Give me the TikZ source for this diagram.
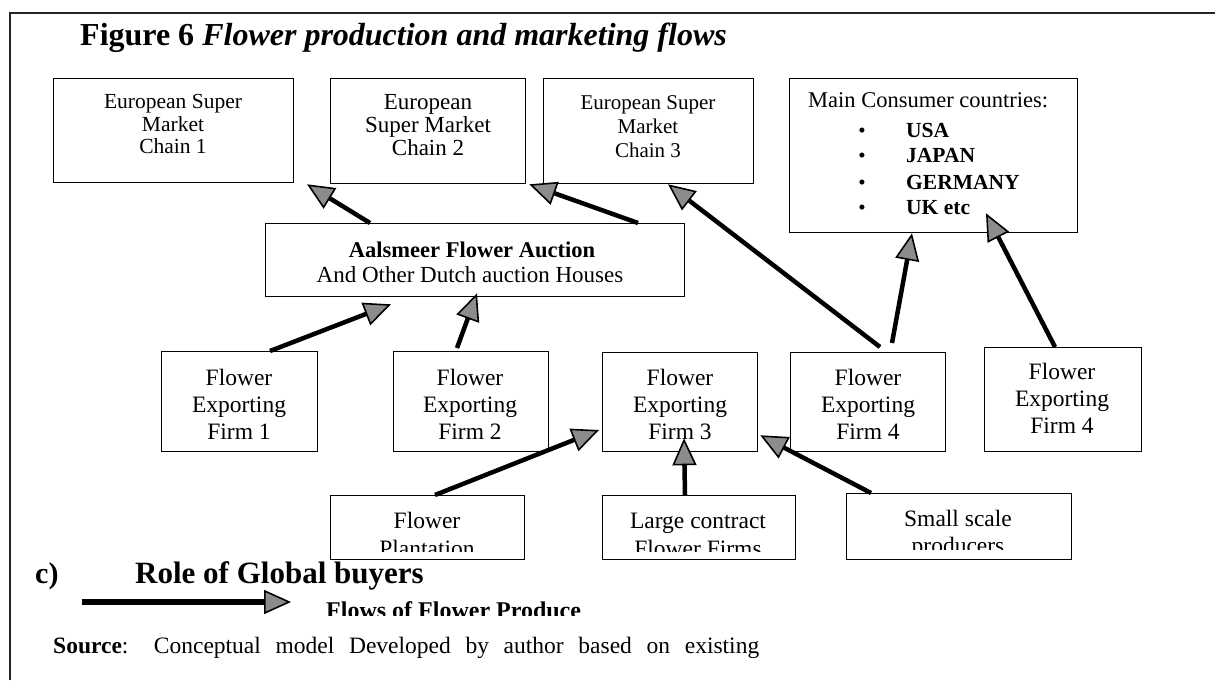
\documentclass[tikz,border=0pt]{standalone}
\usepackage{fontspec}
\setmainfont{Liberation Serif}
\usetikzlibrary{arrows.meta,calc}
\newcommand\fsz[2]{\fontsize{#1pt}{#2pt}\selectfont}
\tikzset{
  box/.style={draw=black, line width=1.3pt, inner sep=0pt, anchor=north west},
  txt/.style={inner sep=0pt, align=center},
  word/.style={inner sep=0pt, anchor=base},
  flow/.style={draw=black, line width=4.5pt,
    -{Triangle[length=27pt,width=24pt,line width=1.6pt,fill=black!45]}},
}
\begin{document}
\begin{tikzpicture}[x=1pt,y=-1pt]
\useasboundingbox (0,0) rectangle (1215,680);
% frame of the figure
\coordinate (fbl) at (10,680);
\coordinate (ftl) at (10,13);
\coordinate (ftr) at (1215,13);
\draw[line width=1.4pt, black!85] (fbl) -- (ftl) -- (ftr);

% title
\node[inner sep=0pt, anchor=base west, font=\fsz{32}{36}] (title) at (80,45)
  {\bfseries Figure 6 \itshape Flower production and marketing flows};

% buyers
\node[box, minimum width=240pt, minimum height=104pt] (sm1) at (53,78) {};
\node[box, minimum width=195pt, minimum height=105pt] (sm2) at (330,78) {};
\node[box, minimum width=210pt, minimum height=105pt] (sm3) at (543,78) {};
\node[box, minimum width=288pt, minimum height=154pt] (cons) at (789,78) {};
\node[txt, font=\fsz{21.5}{22.5}] (sm1t) at (173,124) {European Super\\Market\\Chain 1};
\node[txt, font=\fsz{23}{23}] (sm2t) at (428,125) {European\\Super Market\\Chain 2};
\node[txt, font=\fsz{21}{24}] (sm3t) at (648,127) {European Super\\Market\\Chain 3};
\node[inner sep=0pt, anchor=base west, font=\fsz{22.5}{24}] (c0) at (808,107) {Main Consumer countries:};
\foreach \n/\y/\s in {1/137/USA, 2/162/JAPAN, 3/189/GERMANY, 4/214/UK etc}{
  \node[word, font=\fsz{21}{24}] (b\n) at (862,\y) {•};
  \node[inner sep=0pt, anchor=base west, font=\fsz{21.5}{24}\bfseries] (c\n) at (906,\y) {\s};
}

% auction houses
\node[box, minimum width=419pt, minimum height=73pt] (auc) at (265,223) {};
\node[word, font=\fsz{22.5}{25}\bfseries] (auct1) at (472,257) {Aalsmeer Flower Auction};
\node[word, font=\fsz{23}{25}] (auct2) at (470,282) {And Other Dutch auction Houses};

% exporting firms
\node[box, minimum width=156pt, minimum height=100pt] (f1) at (161,351) {};
\node[box, minimum width=155pt, minimum height=100pt] (f2) at (393,351) {};
\node[box, minimum width=155pt, minimum height=99pt] (f3) at (602,352) {};
\node[box, minimum width=155pt, minimum height=99pt] (f4) at (790,352) {};
\node[box, minimum width=157pt, minimum height=104pt] (f4b) at (984,347) {};
\node[txt, font=\fsz{23.5}{27}] (f1t) at (239,404) {Flower\\Exporting\\Firm 1};
\node[txt, font=\fsz{23.5}{27}] (f2t) at (470,404) {Flower\\Exporting\\Firm 2};
\node[txt, font=\fsz{23.5}{27}] (f3t) at (680,404) {Flower\\Exporting\\Firm 3};
\node[txt, font=\fsz{23.5}{27}] (f4t) at (868,404) {Flower\\Exporting\\Firm 4};
\node[txt, font=\fsz{23.5}{27}] (f4bt) at (1062,398) {Flower\\Exporting\\Firm 4};

% producers (second line cut off by the text area)
\node[box, minimum width=194pt, minimum height=64pt] (plant) at (330,495) {};
\node[box, minimum width=193pt, minimum height=64pt] (large) at (602,495) {};
\node[box, minimum width=225pt, minimum height=66pt] (small) at (846,493) {};
\foreach \b/\ta/\tb/\x/\ya/\yb/\cut in {plant/Flower/Plantation/427/528/556/9,
    large/Large contract/Flower Firms/698/528/556/9,
    small/Small scale/producers/958/526/553/11}{
  \begin{scope}
    \clip (\b.north west) rectangle ($(\b.south east)+(0,-\cut)$);
    \node[word, font=\fsz{23.5}{27}] (\b a) at (\x,\ya) {\ta};
    \node[word, font=\fsz{23.5}{27}] (\b b) at (\x,\yb) {\tb};
  \end{scope}
}

% flows
\draw[flow] ($(auc.north west)+(105,0)$) -- ($(sm2.south west)+(-23,0)$);
\draw[flow] ($(auc.north west)+(373,0)$) -- ($(sm2.south east)+(3,0)$);
\draw[flow] ($(f4.north west)+(90,-5)$) -- ($(sm3.south west)+(125,0)$);
\draw[flow] ($(f4.north west)+(102,-9)$) -- ($(cons.south west)+(123,0)$);
\draw[flow] ($(f4b.north west)+(71,0)$) -- ($(cons.south west)+(197,-20)$);
\draw[flow] ($(f1.north west)+(109,0)$) -- ($(auc.south west)+(126,7)$);
\draw[flow] ($(f2.north west)+(64,-3)$) -- ($(auc.south west)+(212,-4)$);
\draw[flow] ($(plant.north west)+(105,0)$) -- ($(f3.north west)+(-3,78)$);
\draw[flow] ($(large.north west)+(83,0)$) -- ($(f3.south west)+(82,-14)$);
\draw[flow] ($(small.north west)+(25,0)$) -- ($(f3.south east)+(2,-17)$);

% legend
\node[inner sep=0pt, anchor=base west, font=\fsz{30}{32}\bfseries] (cl) at (35,583) {c)};
\node[inner sep=0pt, anchor=base west, font=\fsz{31}{32}\bfseries] (role) at (135,583) {Role of Global buyers};
\coordinate (legA) at (82,602);
\coordinate (legB) at (291,602);
\draw[flow, line width=6pt] (legA) -- (legB);
\begin{scope}
  \clip (300,590) rectangle (620,615);
  \node[inner sep=0pt, anchor=base west, font=\fsz{24}{26}\bfseries] (flows) at (326,618) {Flows of Flower Produce};
\end{scope}
\node[inner sep=0pt, anchor=base west, font=\fsz{23.5}{26}] (src) at (53,653)
  {\makebox[706pt][s]{\textbf{Source}: Conceptual model Developed by author based on existing}};
\end{tikzpicture}
\end{document}
